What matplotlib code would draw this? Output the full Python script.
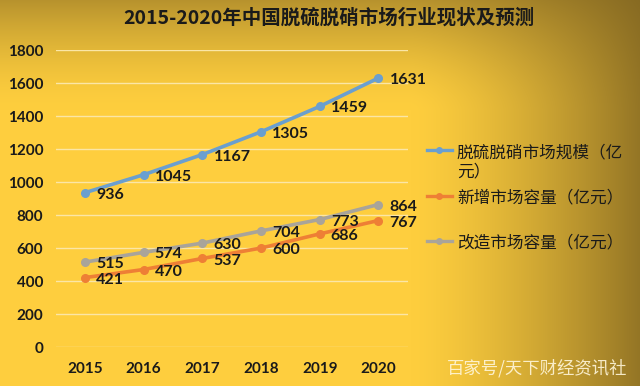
import matplotlib
matplotlib.use("Agg")
import matplotlib.pyplot as plt
from matplotlib.lines import Line2D
import numpy as np

plt.rcParams['font.family'] = ['Noto Sans CJK SC', 'DejaVu Sans']

years = ['2015', '2016', '2017', '2018', '2019', '2020']
total = [936, 1045, 1167, 1305, 1459, 1631]
new_cap = [421, 470, 537, 600, 686, 767]
retro = [515, 574, 630, 704, 773, 864]
names = ['脱硫脱硝市场规模（亿\n元）', '新增市场容量（亿元）', '改造市场容量（亿元）']
title = '2015-2020年中国脱硫脱硝市场行业现状及预测'
watermark = '百家号/天下财经资讯社'

c_blue = '#6a9fcf'
c_orange = '#ee7f35'
c_gray = '#a9a49a'
colors = [c_blue, c_orange, c_gray]

fig = plt.figure(figsize=(6.4, 3.86), dpi=100)

# golden gradient background
h, w = 386, 640
yy, xx = np.mgrid[0:h, 0:w]
bright = np.array([254, 206, 62]) / 255.0
dark = np.array([125, 98, 32]) / 255.0
tv = np.clip(1 - yy / 110.0, 0, 1) ** 1.6 * 0.55
th = np.clip((xx - 410) / 235.0, 0, 1) ** 1.4 * 0.85
t = np.clip(tv + th - tv * th, 0, 1)
img = bright[None, None, :] * (1 - t[..., None]) + dark[None, None, :] * t[..., None]
bg = fig.add_axes([0, 0, 1, 1])
bg.imshow(img, aspect='auto', extent=[0, 1, 0, 1], zorder=0)
bg.axis('off')

ax = fig.add_axes([0.087, 0.101, 0.550, 0.769])
ax.patch.set_alpha(0)
x = np.arange(len(years))

for series, c in zip([total, new_cap, retro], colors):
    ax.plot(x, series, color=c, lw=2.6, marker='o', ms=5.5, zorder=3)

lab_font = dict(fontsize=11.5, fontweight='bold', color='#1a1a1a', family=['Lato', 'DejaVu Sans'])
for series in [total, new_cap, retro]:
    for i, v in enumerate(series):
        ax.annotate(str(v), (x[i], v), xytext=(8, -1.5), textcoords='offset points',
                    va='center', ha='left', **lab_font)

ax.set_xlim(-0.5, len(years) - 0.5)
ax.set_ylim(0, 1800)
ax.set_yticks(np.arange(0, 1801, 200))
ax.set_xticks(x)
ax.set_xticklabels(years)
ax.grid(axis='y', color='#fbe6a6', lw=1.0, zorder=1)
ax.set_axisbelow(True)
for s in ax.spines.values():
    s.set_visible(False)
ax.tick_params(length=0, pad=9, labelsize=11, labelcolor='#1a1a1a')
for tl in ax.get_xticklabels() + ax.get_yticklabels():
    tl.set_fontweight('bold')
    tl.set_family(['Lato', 'DejaVu Sans'])
ax.tick_params(axis='x', pad=11)

# legend drawn by hand so the marker sits on the first line of a wrapped label
rows = [0.611, 0.492, 0.376]
for name, c, ry in zip(names, colors, rows):
    fig.add_artist(Line2D([0.667, 0.706], [ry, ry], transform=fig.transFigure,
                          color=c, lw=2.4))
    fig.add_artist(Line2D([0.6865], [ry], transform=fig.transFigure, color=c,
                          marker='o', ms=4))
    extra = name.count('\n') * 0.051
    fig.text(0.714, ry - 0.016 - extra, name, ha='left', va='baseline', fontsize=12,
             color='#1a1a1a', linespacing=1.15)

fig.text(0.514, 0.955, title, ha='center', va='center', fontsize=14, fontweight='bold', color='#1a1a1a')
fig.text(0.981, 0.047, watermark, ha='right', va='center', fontsize=12.5, color='#fff6da', alpha=0.9)

fig.savefig('out.png', dpi=100)
